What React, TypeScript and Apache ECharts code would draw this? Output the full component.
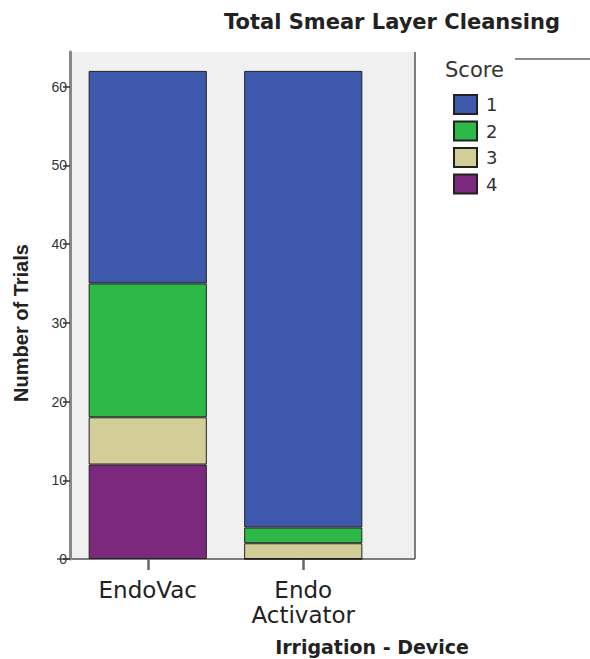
import React, { useEffect, useRef } from "react";
import * as echarts from "echarts";

const categories = ["EndoVac", "Endo\nActivator"];
const scoreNames = ["1", "2", "3", "4"];
const score1 = [27, 58];
const score2 = [17, 2];
const score3 = [6, 2];
const score4 = [12, 0];
const yTicks = [0, 10, 20, 30, 40, 50, 60];
const colors = ["#3E58AC", "#2EB848", "#D3CE97", "#7C287D"];

export default function App() {
  const ref = useRef<HTMLDivElement>(null);
  useEffect(() => {
    if (!ref.current) return;
    const chart = echarts.init(ref.current, null, { renderer: "svg" });
    const seriesData = [score1, score2, score3, score4];
    const order = [3, 2, 1, 0];
    const series = order.map((i) => ({
      name: scoreNames[i],
      type: "bar",
      stack: "total",
      data: seriesData[i],
      barWidth: "76%",
      itemStyle: { color: colors[i], borderColor: "#222", borderWidth: 1 },
    }));
    chart.setOption({
      animation: false,
      title: {
        text: "Total Smear Layer Cleansing",
        left: 224,
        top: 11,
        padding: 0,
        textStyle: { fontFamily: "DejaVu Sans", fontWeight: "bold", fontSize: 21, color: "#222" },
      },
      legend: {
        orient: "vertical",
        left: 453,
        top: 94,
        padding: 0,
        data: scoreNames,
        icon: "rect",
        itemWidth: 23,
        itemHeight: 19,
        itemGap: 5.5,
        textStyle: { fontFamily: "DejaVu Sans", fontSize: 18, color: "#333", padding: [0, 0, 0, 4] },
      },
      grid: { left: 70, right: 209, top: 52, bottom: 100, containLabel: false },
      xAxis: {
        type: "category",
        data: categories,
        axisLine: { show: false },
        axisTick: { show: true, alignWithLabel: true, length: 11, lineStyle: { color: "#666", width: 2.5 } },
        axisLabel: {
          fontFamily: "DejaVu Sans",
          fontSize: 23,
          lineHeight: 25,
          color: "#222",
          margin: 18,
        },
      },
      yAxis: {
        type: "value",
        min: 0,
        max: 64.4,
        splitLine: { show: false },
        axisLine: { show: true, lineStyle: { color: "#888", width: 3 } },
        axisTick: { show: true, length: 7, customValues: yTicks, lineStyle: { color: "#333", width: 1.5 } },
        axisLabel: {
          customValues: yTicks,
          fontFamily: "Liberation Sans",
          fontSize: 14,
          color: "#333",
          margin: 3,
        },
      },
      graphic: [
        {
          type: "rect",
          z: -10,
          silent: true,
          shape: { x: 72, y: 52, width: 343, height: 507 },
          style: { fill: "#F0F0F0" },
        },
        {
          type: "line",
          shape: { x1: 415, y1: 52, x2: 415, y2: 559 },
          style: { stroke: "#555", lineWidth: 1.5 },
        },
        {
          type: "line",
          shape: { x1: 57, y1: 559, x2: 415, y2: 559 },
          style: { stroke: "#555", lineWidth: 1.5 },
        },
        {
          type: "line",
          shape: { x1: 515, y1: 59, x2: 590, y2: 59 },
          style: { stroke: "#666", lineWidth: 1.5 },
        },
        {
          type: "text",
          x: 445,
          y: 59,
          style: { text: "Score", fontFamily: "DejaVu Sans", fontSize: 21, fill: "#333" },
        },
        {
          type: "text",
          x: 372,
          y: 647,
          style: {
            text: "Irrigation - Device",
            fontFamily: "DejaVu Sans",
            fontWeight: "bold",
            fontSize: 19,
            fill: "#222",
            align: "center",
            verticalAlign: "middle",
          },
        },
        {
          type: "text",
          x: 21,
          y: 323,
          rotation: Math.PI / 2,
          style: {
            text: "Number of Trials",
            fontFamily: "Liberation Sans",
            fontWeight: "bold",
            fontSize: 20,
            fill: "#222",
            align: "center",
            verticalAlign: "middle",
          },
        },
      ],
      series,
    });
    return () => chart.dispose();
  }, []);
  return <div ref={ref} style={{ position: "absolute", left: 0, top: 0, width: 590, height: 659 }} />;
}
